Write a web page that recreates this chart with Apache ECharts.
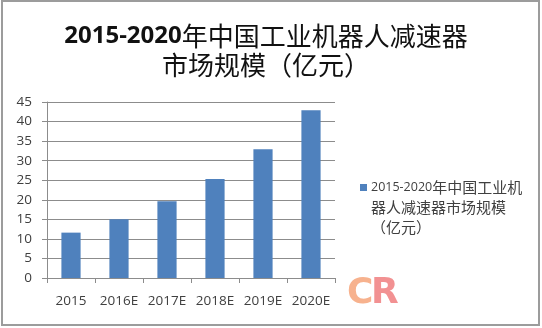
<!DOCTYPE html>
<html>
<head>
<meta charset="utf-8">
<script src="https://cdn.jsdelivr.net/npm/echarts@6/dist/echarts.min.js"></script>
<style>
  html, body { margin: 0; padding: 0; background: #ffffff; }
  #chart { width: 542px; height: 328px; }
</style>
</head>
<body>
<div id="chart"></div>
<script>
// Market size of speed reducers for industrial robots in China, 2015-2020 (100 million yuan)
const categories = ['2015', '2016E', '2017E', '2018E', '2019E', '2020E'];
const marketSize = [11.6, 15.0, 19.6, 25.3, 32.9, 42.9];
const yTicks = { min: 0, max: 45, step: 5 };
const seriesName = '2015-2020年中国工业机器人减速器市场规模（亿元）';

const LATIN = '"Open Sans", "Liberation Sans", sans-serif';
const CJK = '"Noto Sans CJK SC", sans-serif';
const TEXT = '#404040';
const GRID = '#8c8c8c';
const BAR = '#4f81bd';

const chart = echarts.init(document.getElementById('chart'), null, { renderer: 'canvas' });

chart.setOption({
  backgroundColor: '#ffffff',
  animation: false,
  title: {
    text: '{d|2015-2020}{c|年中国工业机器人减速器}\n{c|市场规模（亿元）}',
    left: 261,
    top: 17,
    textAlign: 'center',
    textStyle: {
      rich: {
        d: { fontFamily: LATIN, fontWeight: 'bold', fontSize: 24, color: '#111', lineHeight: 29 },
        c: { fontFamily: CJK, fontWeight: 'normal', fontSize: 26, color: '#111', lineHeight: 29 }
      }
    }
  },
  legend: {
    show: true,
    left: 350,
    top: 175,
    itemWidth: 0,
    itemHeight: 0,
    icon: 'rect',
    selectedMode: false,
    data: [seriesName],
    formatter: function () {
      // the colour key sits beside the first line; the other lines keep the same indent
      return '{sq|x}{gap|x}{d|2015-2020}{c|年中国工业机}\n' +
             '{sqh|x}{gap|x}{c|器人减速器市场规模}\n' +
             '{sqh|x}{gap|x}{c|（亿元）}';
    },
    textStyle: {
      rich: {
        sq: { width: 7, height: 7, backgroundColor: BAR, color: 'rgba(0,0,0,0)', fontSize: 1, lineHeight: 20 },
        sqh: { width: 7, height: 7, backgroundColor: 'rgba(0,0,0,0)', color: 'rgba(0,0,0,0)', fontSize: 1, lineHeight: 20 },
        gap: { width: 4, color: 'rgba(0,0,0,0)', fontSize: 1, lineHeight: 20 },
        d: { fontFamily: LATIN, fontSize: 12.5, color: TEXT, lineHeight: 20 },
        c: { fontFamily: CJK, fontSize: 15, color: TEXT, lineHeight: 20 }
      }
    }
  },
  grid: { left: 47, right: 207, top: 102, bottom: 50, containLabel: false },
  xAxis: {
    type: 'category',
    data: categories,
    boundaryGap: true,
    axisLine: { show: true, lineStyle: { color: GRID, width: 1 } },
    axisTick: { show: true, length: 5, lineStyle: { color: GRID } },
    axisLabel: { margin: 16, color: TEXT, fontFamily: LATIN, fontSize: 13.5, interval: 0 },
    splitLine: { show: false }
  },
  yAxis: {
    type: 'value',
    min: yTicks.min,
    max: yTicks.max,
    interval: yTicks.step,
    axisLine: { show: true, lineStyle: { color: GRID, width: 1 } },
    axisTick: { show: true, length: 5, lineStyle: { color: GRID } },
    axisLabel: { margin: 15, color: TEXT, fontFamily: LATIN, fontSize: 13.5 },
    splitLine: { show: true, lineStyle: { color: GRID, width: 1 } }
  },
  series: [{
    name: seriesName,
    type: 'bar',
    data: marketSize,
    barWidth: '40%',
    itemStyle: { color: BAR }
  }],
  graphic: [
    {
      type: 'rect',
      shape: { x: 2, y: 1, width: 537, height: 324 },
      style: { fill: 'none', stroke: '#9c9c9c', lineWidth: 2 },
      silent: true,
      z: 100
    },
    {
      type: 'text',
      left: 347,
      top: 276,
      style: { text: 'C', fontFamily: '"DejaVu Sans", sans-serif', fontWeight: 'bold', fontSize: 36, fill: '#f7b28e' },
      silent: true
    },
    {
      type: 'text',
      left: 371,
      top: 276,
      style: { text: 'R', fontFamily: '"DejaVu Sans", sans-serif', fontWeight: 'bold', fontSize: 36, fill: '#f29192' },
      silent: true
    }
  ]
});
</script>
</body>
</html>
